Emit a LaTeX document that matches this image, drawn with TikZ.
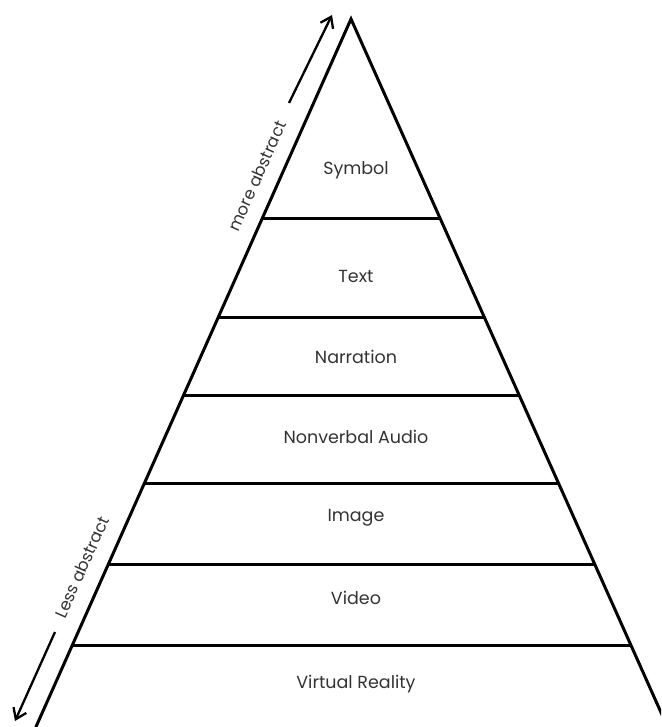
\documentclass[tikz,border=0pt]{standalone}
\usepackage{fontspec}
\setmainfont{Poppins}
\usetikzlibrary{calc,arrows.meta}
\tikzset{
  side/.style={line width=3pt, line cap=round},
  tier/.style={line width=3pt},
  lbl/.style={font=\fontsize{17.5}{20}\selectfont, text=black!80, inner sep=0pt},
  slant/.style={font=\fontsize{16.5}{19}\selectfont, text=black!80, inner sep=0pt, rotate=66},
  abstractarrow/.style={line width=2.3pt, -{Straight Barb[length=10pt,width=14pt,line width=2.3pt]}}
}
\begin{document}
\begin{tikzpicture}[x=1pt,y=-1pt]
\useasboundingbox (0,0) rectangle (661,727);
\clip (0,0) rectangle (661,727);
\coordinate (apex) at (351,19);
\coordinate (bl) at (35.9,727);
\coordinate (br) at (667.5,727);
\draw[side] (bl) -- (apex) -- (br);
\foreach \t in {0.2811,0.4223,0.5311,0.6554,0.7698,0.8842}{
  \draw[tier] ($(apex)!\t!(bl)$) -- ($(apex)!\t!(br)$);
}
\node[lbl] (symbol) at (356,170) {Symbol};
\node[lbl] (text) at (356,276) {Text};
\node[lbl] (narration) at (356,357) {Narration};
\node[lbl] (audio) at (356,437) {Nonverbal Audio};
\node[lbl] (image) at (356,518) {Image};
\node[lbl] (video) at (356,598) {Video};
\node[lbl] (vr) at (356,684) {Virtual Reality};
\node[slant] (more) at (257,176) {more abstract};
\node[slant] (less) at (82,567) {Less abstract};
\coordinate (upT) at (289,103);
\coordinate (upH) at (332,15);
\coordinate (loT) at (55,632);
\coordinate (loH) at (15,721);
\draw[abstractarrow] (upT) -- (upH);
\draw[abstractarrow] (loT) -- (loH);
\end{tikzpicture}
\end{document}
